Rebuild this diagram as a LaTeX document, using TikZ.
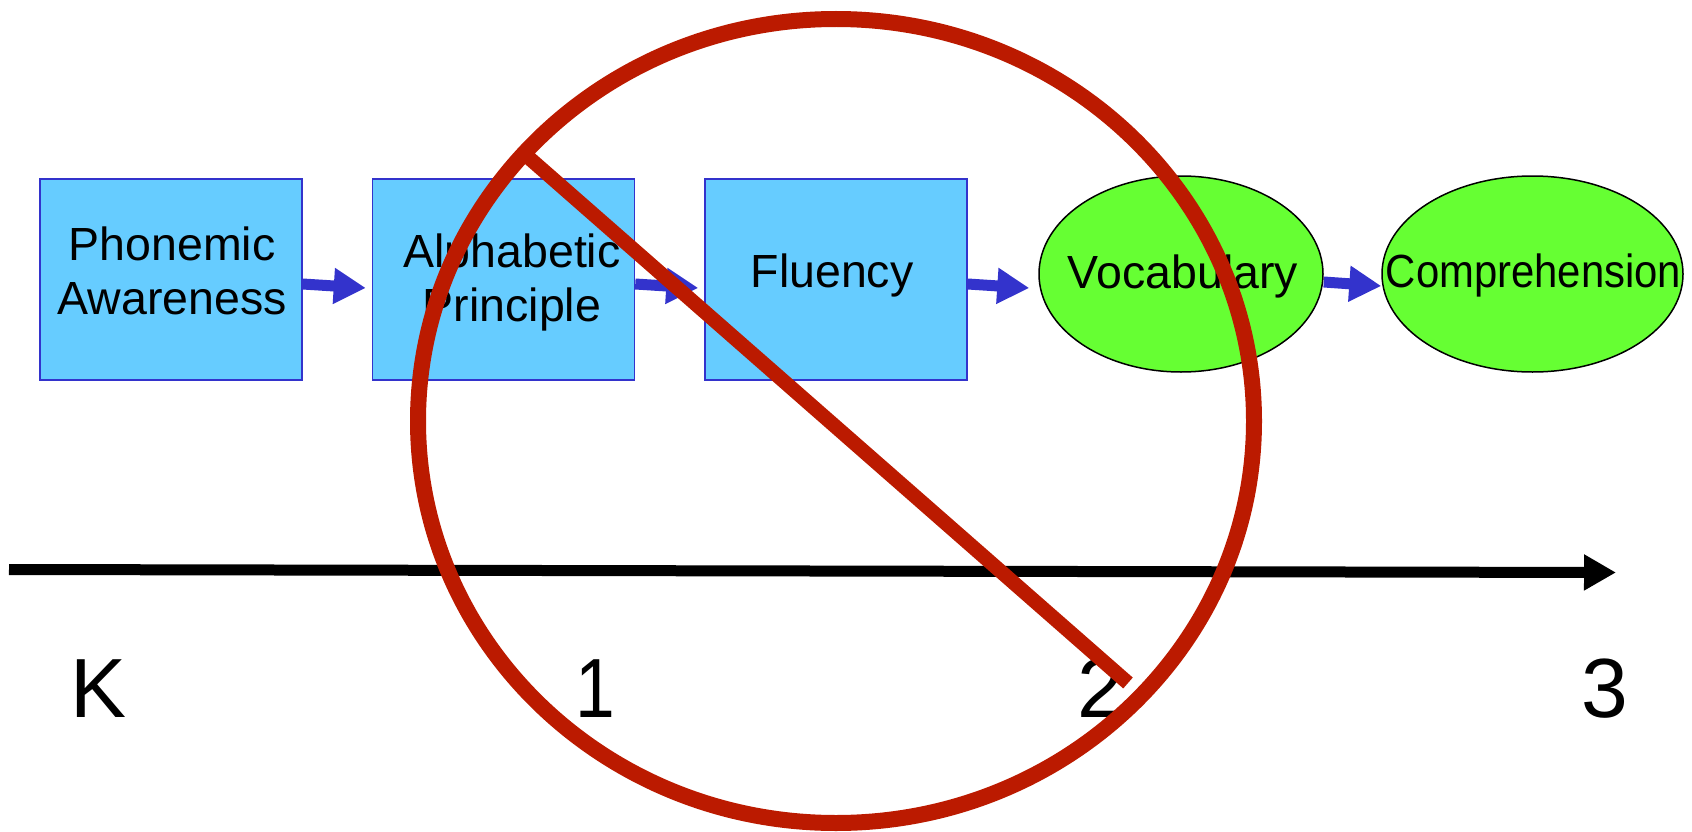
\documentclass[tikz,border=0pt]{standalone}
\usepackage{fontspec}
\setmainfont{Liberation Sans}
\usepackage{graphicx}
\usetikzlibrary{shapes.geometric,arrows.meta,calc}
\definecolor{boxfill}{HTML}{66CCFF}
\definecolor{boxline}{HTML}{3333CC}
\definecolor{ovalfill}{HTML}{66FF33}
\definecolor{redmark}{HTML}{BB1A00}
\tikzset{
  stagebox/.style={draw=boxline, fill=boxfill, line width=1.5pt, minimum width=262pt, minimum height=201pt, inner sep=0pt},
  stageoval/.style={draw=black, fill=ovalfill, line width=1.5pt, ellipse, inner sep=0pt},
  stagetxt/.style={font=\fontsize{46.5}{54}\selectfont, align=center, inner sep=0pt},
  flow/.style={draw=boxline, line width=11pt, -{Triangle[length=32pt,width=34pt]}},
  timeline/.style={draw=black, line width=11pt, -{Triangle[length=32pt,width=34pt]}},
  gradetxt/.style={font=\fontsize{84}{100}\selectfont, anchor=base, inner sep=0pt},
  redmarkstyle/.style={draw=redmark, line width=16pt},
}
\begin{document}
\begin{tikzpicture}[x=1pt,y=-1pt]
\useasboundingbox (0,0) rectangle (1692,832);
% boxes
\node[stagebox] (b1) at (171,279.5) {};
\node[stagebox] (b2) at (503.5,279.5) {};
\node[stagebox] (b3) at (836,279.5) {};
% ovals
\node[stageoval, minimum width=284pt, minimum height=196pt] (o1) at (1181,274) {};
\node[stageoval, minimum width=301pt, minimum height=196pt] (o2) at (1532.5,274) {};
% texts
\node[stagetxt] (t1) at (172,271) {Phonemic\\Awareness};
\node[stagetxt] (t2) at (512,282) {Alphabetic\\Principle};
\node[stagetxt] (t3) at (832,275) {Fluency};
\node[stagetxt] (t4) at (1183,276) {Vocabulary};
\node[stagetxt] (t5) at (1533.5,275) {\scalebox{0.9}[1]{Comprehension}};
% flow arrows
\draw[flow] ($(b1.east)+(0,4.5)$) -- ($(b2.west)+(-6,8.5)$);
\draw[flow] ($(b2.east)+(0,4.5)$) -- ($(b3.west)+(-6,8.5)$);
\draw[flow] ($(b3.east)+(0,4.5)$) -- ($(o1.west)+(-9,14)$);
\draw[flow] ($(o1.east)+(0,8)$) -- ($(o2.west)+(0,12)$);
% timeline
\coordinate (ax0) at (9,569.5);
\coordinate (ax1) at (1616,572.5);
\draw[timeline] (ax0) -- (ax1);
\node[gradetxt] (gk) at (99,717) {K};
\node[gradetxt] (g1) at (595,717) {\scalebox{0.85}[1]{1}};
\node[gradetxt] (g2) at (1101,717) {2};
\node[gradetxt] (g3) at (1605,717) {3};
% red "no" sign
\draw[redmarkstyle] (836,421) ellipse [x radius=418, y radius=402];
\coordinate (r0) at (528,157);
\coordinate (r1) at (1128,683);
\draw[redmarkstyle, line width=14.5pt] (r0) -- (r1);
\end{tikzpicture}
\end{document}
